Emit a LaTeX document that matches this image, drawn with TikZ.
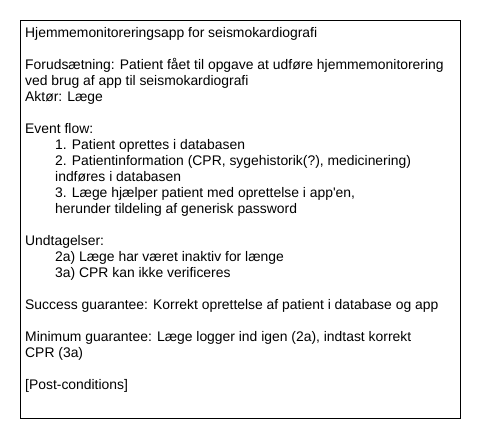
\documentclass[tikz,border=0pt]{standalone}
\usepackage{fontspec}
\setmainfont{Liberation Sans}

\tikzset{txt/.style={anchor=base west, inner sep=0pt, font=\fontsize{13.9}{16}\selectfont}}

\begin{document}
\begin{tikzpicture}[x=1pt,y=-1pt]
  \useasboundingbox (0,0) rectangle (480,440);
  \draw[line width=1pt] (20,20) rectangle (460,418);
  % header
  \node[txt] (title) at (25,37) {Hjemmemonitoreringsapp for seismokardiografi};
  \node[txt] (pre1) at (25,69) {Forudsætning: Patient fået til opgave at udføre hjemmemonitorering};
  \node[txt] (pre2) at (25,85) {ved brug af app til seismokardiografi};
  \node[txt] (actor) at (25,101) {Aktør: Læge};
  % event flow
  \node[txt] (flow) at (25,133) {Event flow:};
  \node[txt] (step1) at (55,149) {1. Patient oprettes i databasen};
  \node[txt] (step2) at (55,165) {2. Patientinformation (CPR, sygehistorik(?), medicinering)};
  \node[txt] (step2b) at (55,181) {indføres i databasen};
  \node[txt] (step3) at (55,197) {3. Læge hjælper patient med oprettelse i app\textquotesingle en,};
  \node[txt] (step3b) at (55,213) {herunder tildeling af generisk password};
  % exceptions
  \node[txt] (exc) at (25,245) {Undtagelser:};
  \node[txt] (exc2a) at (55,261) {2a) Læge har været inaktiv for længe};
  \node[txt] (exc3a) at (55,277) {3a) CPR kan ikke verificeres};
  % guarantees
  \node[txt] (succ) at (25,309) {Success guarantee: Korrekt oprettelse af patient i database og app};
  \node[txt] (mini) at (25,341) {Minimum guarantee: Læge logger ind igen (2a), indtast korrekt};
  \node[txt] (mini2) at (25,357) {CPR (3a)};
  \node[txt] (post) at (25,389) {[Post-conditions]};
\end{tikzpicture}
\end{document}
